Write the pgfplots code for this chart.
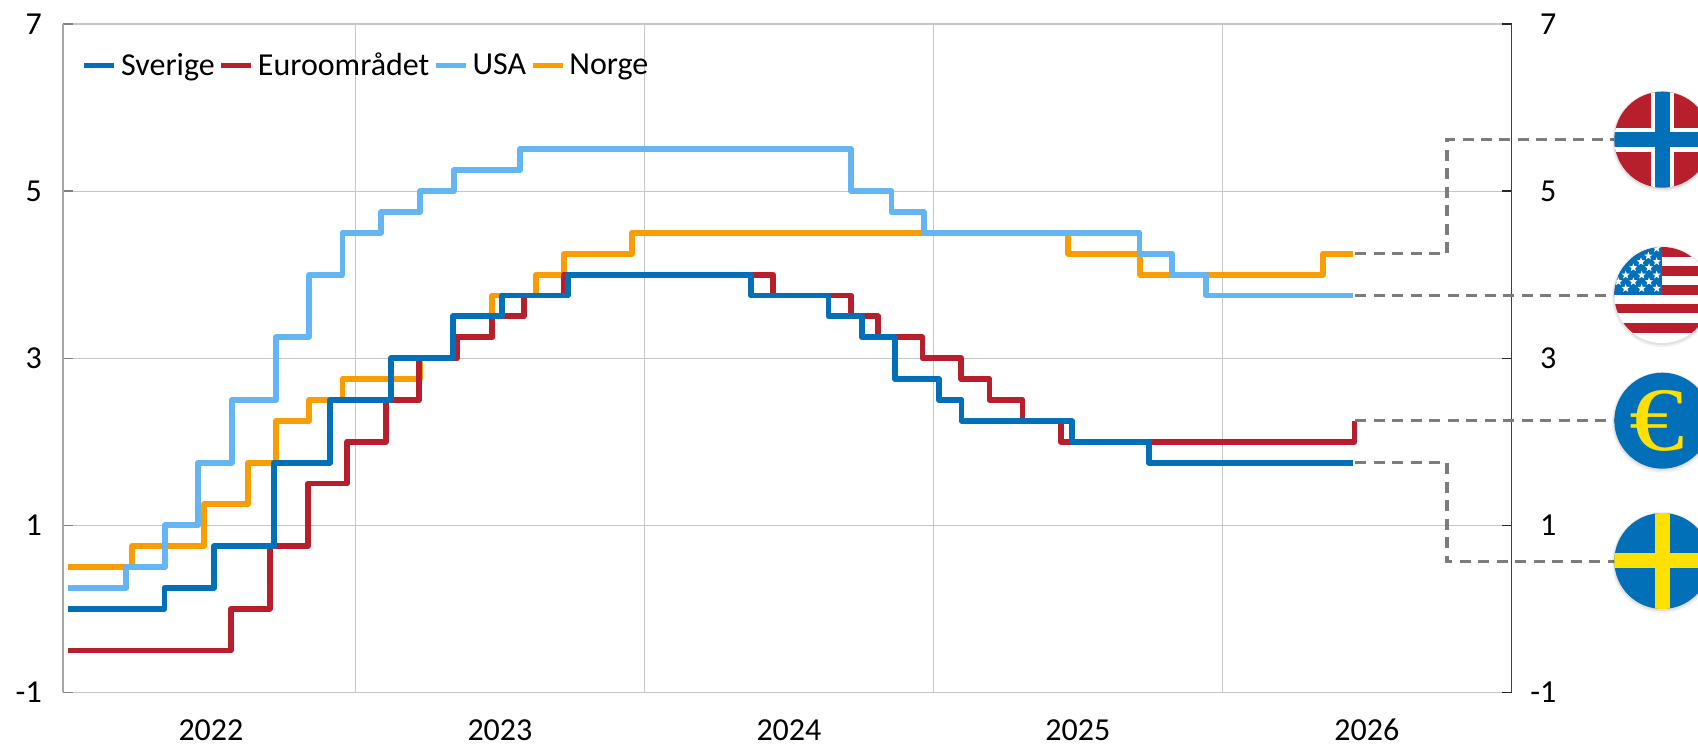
\documentclass[border=0pt]{standalone}
\usepackage{fontspec}
\setmainfont{Carlito}
\newfontfamily\serifeuro{Liberation Serif}
\usepackage{pgfplots}
\pgfplotsset{compat=1.18}
\usetikzlibrary{shapes.geometric}
\definecolor{sblue}{HTML}{0270B9}
\definecolor{sred}{HTML}{B81F2D}
\definecolor{slight}{HTML}{63B5F4}
\definecolor{sorange}{HTML}{F99D00}
\definecolor{syellow}{HTML}{FFE000}
\definecolor{gridc}{HTML}{C6C6C6}
\definecolor{leader}{HTML}{7F7B7B}
\newcommand{\labfont}{\fontsize{24}{28}\selectfont}
\pgfplotstableread{
x y
2022.006 0
2022.339 0.25
2022.511 0.75
2022.717 1.75
2022.912 2.5
2023.123 3.0
2023.337 3.5
2023.507 3.75
2023.735 4.0
2024.368 3.75
2024.637 3.5
2024.752 3.25
2024.867 2.75
2025.019 2.5
2025.097 2.25
2025.478 2.0
2025.746 1.75
2026.451 1.75
}\tabSverige
\pgfplotstableread{
x y
2022.006 -0.5
2022.569 0
2022.703 0.75
2022.836 1.5
2022.971 2
2023.105 2.5
2023.219 3.0
2023.351 3.25
2023.473 3.5
2023.583 3.75
2023.720 4.0
2024.446 3.75
2024.715 3.5
2024.808 3.25
2024.962 3.0
2025.096 2.75
2025.194 2.5
2025.308 2.25
2025.441 2.0
2026.457 2.25
}\tabEuro
\pgfplotstableread{
x y
2022.006 0.25
2022.207 0.5
2022.341 1.0
2022.456 1.75
2022.572 2.5
2022.726 3.25
2022.839 4
2022.955 4.5
2023.088 4.75
2023.224 5
2023.340 5.25
2023.568 5.5
2024.715 5.0
2024.855 4.75
2024.966 4.5
2025.713 4.25
2025.827 4.0
2025.943 3.75
2026.451 3.75
}\tabUSA
\pgfplotstableread{
x y
2022.006 0.5
2022.227 0.75
2022.475 1.25
2022.628 1.75
2022.725 2.25
2022.839 2.5
2022.955 2.75
2023.222 3.0
2023.352 3.25
2023.473 3.75
2023.624 4.0
2023.723 4.25
2023.956 4.5
2025.467 4.25
2025.716 4.0
2026.347 4.25
2026.451 4.25
}\tabNorge
\pgfplotsset{
  base/.style={
    at={(47.25pt,39.5pt)}, anchor=south west,
    scale only axis, width=1086.5pt, height=501.2pt,
    xmin=2021.988, xmax=2027.001, ymin=-1, ymax=7,
    ytick={-1,1,3,5,7}, yticklabels={-1,1,3,5,7},
    tick label style={font=\labfont, inner sep=0pt},
    major tick length=7.5pt,
  },
  ser/.style={const plot mark left, no markers, line width=4.4pt, line join=round, line cap=butt},
  lead/.style={no markers, forget plot, leader, line width=2.3pt, dash pattern=on 8.25pt off 5.6pt, line cap=butt},
}
\begin{document}
\begin{tikzpicture}
\useasboundingbox (0,0) rectangle (1273.5pt,558.75pt);
\clip (0,0) rectangle (1273.5pt,558.75pt);
% main axis
\begin{axis}[base, clip=false,
  axis x line*=bottom, axis y line*=left,
  x axis line style={draw=none},
  y axis line style={draw=black!35, line width=1pt, -},
  y tick style={draw=black!50, line width=1pt},
  tick align=inside,
  xtick={2023,2024,2025,2026}, xticklabels={},
  x tick style={draw=none},
  extra x ticks={2022.5,2023.5,2024.5,2025.5,2026.5},
  extra x tick labels={2022,2023,2024,2025,2026},
  extra x tick style={grid=none, major tick length=0pt},
  grid=major,
  major grid style={draw=gridc, line width=0.9pt},
  xticklabel style={anchor=base, yshift=-36.5pt},
  yticklabel style={anchor=east, xshift=-15.75pt},
  legend columns=4,
  legend cell align=left,
  legend style={draw=none, fill=none, at={(0.0127,0.938)}, anchor=west,
    font=\labfont, inner sep=0pt, outer sep=0pt,
    nodes={inner sep=0pt, outer sep=0pt},
    /tikz/every even column/.append style={column sep=2.6pt},
    /tikz/every odd column/.append style={column sep=2.9pt}},
  legend image code/.code={\draw[#1] (0,0) -- (22.5pt,0);},
]
\addlegendimage{sblue, line width=4.4pt}\addlegendentry{Sverige}
\addlegendimage{sred, line width=4.4pt}\addlegendentry{Euroområdet}
\addlegendimage{slight, line width=4.4pt}\addlegendentry{USA}
\addlegendimage{sorange, line width=4.4pt}\addlegendentry{Norge}
\addplot[ser, sorange, forget plot] table[x=x,y=y] {\tabNorge};
\addplot[ser, slight, forget plot] table[x=x,y=y] {\tabUSA};
\addplot[ser, sred, forget plot] table[x=x,y=y] {\tabEuro};
\addplot[ser, sblue, forget plot] table[x=x,y=y] {\tabSverige};
\end{axis}
% right axis, with the leader lines over it
\begin{axis}[base, clip=false,
  axis x line=none, axis y line*=right,
  axis line style={draw=black!75, line width=1pt, -},
  y tick style={draw=black!85, line width=1pt},
  tick align=inside,
  yticklabel style={anchor=east, xshift=33.75pt},
]
\addplot[lead] coordinates {(2026.46,4.25) (2026.777,4.25) (2026.777,5.62) (2027.36,5.62)};
\addplot[lead] coordinates {(2026.46,3.75) (2027.36,3.75)};
\addplot[lead] coordinates {(2026.46,2.25) (2027.36,2.25)};
\addplot[lead] coordinates {(2026.46,1.75) (2026.777,1.75) (2026.777,0.57) (2027.36,0.57)};
\end{axis}
% flags (picture decoration, pixel coordinates of the reference)
\begin{scope}[shift={(0pt,558.75pt)},x=0.75pt,y=-0.75pt]
  \foreach \cy in {139.7,295,420.7,561}{
    \fill[black,opacity=.05] (1662.3,\cy+1.5) circle[radius=50.5];
    \fill[black,opacity=.07] (1662.3,\cy+1) circle[radius=49.2];
  }
  % Norway
  \begin{scope}
    \clip (1662.3,139.7) circle[radius=48];
    \fill[sred] (1610,85) rectangle (1715,195);
    \fill[white] (1650.5,85) rectangle (1674.1,195);
    \fill[white] (1610,127.7) rectangle (1715,151.7);
    \fill[sblue] (1654.8,85) rectangle (1669.8,195);
    \fill[sblue] (1610,132.2) rectangle (1715,147.2);
  \end{scope}
  % USA
  \begin{scope}
    \clip (1662.3,295) circle[radius=48];
    \fill[white] (1610,240) rectangle (1715,350);
    \foreach \a/\b in {247/256.7,266/276,285.3/295,304/313.3,322.7/332.7}
      \fill[sred] (1610,\a) rectangle (1715,\b);
    \fill[sblue] (1610,240) rectangle (1662.3,295);
    \foreach \sx/\sy in {770/745,745/768,770/785,723/785,747/803,700/803,770/825,725/825,677/825,747/845,700/845,655/845,770/865,725/865,677/865}
      \node[star, star points=5, star point ratio=2.4, fill=white, inner sep=0pt, minimum size=6.5pt] at ({1400+\sx/3},{\sy/3}) {};
  \end{scope}
  % Euro
  \fill[sblue] (1662.3,420.7) circle[radius=48];
  \node[text=syellow, inner sep=0pt, xscale=1.22, transform shape, font=\serifeuro\fontsize{68}{68}\selectfont] at (1657,420.5) {€};
  % Sweden
  \begin{scope}
    \clip (1662.3,561) circle[radius=48];
    \fill[sblue] (1610,505) rectangle (1715,615);
    \fill[syellow] (1654.8,505) rectangle (1669.8,615);
    \fill[syellow] (1610,553.5) rectangle (1715,568.5);
  \end{scope}
\end{scope}
\end{tikzpicture}
\end{document}
